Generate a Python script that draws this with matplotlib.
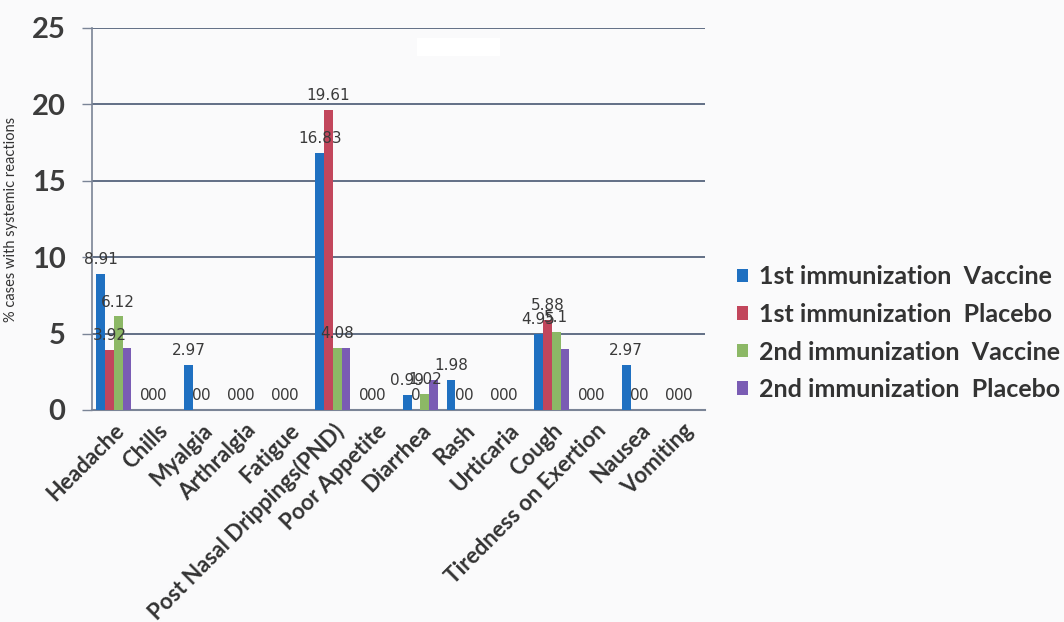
import matplotlib
matplotlib.use("Agg")
import matplotlib.pyplot as plt
import numpy as np
from matplotlib.patches import Rectangle

plt.rcParams['font.family'] = ['Lato', 'DejaVu Sans']

categories = ["Headache", "Chills", "Myalgia", "Arthralgia", "Fatigue",
              "Post Nasal Drippings(PND)", "Poor Appetite", "Diarrhea", "Rash",
              "Urticaria", "Cough", "Tiredness on Exertion", "Nausea", "Vomiting"]

vaccine_1st = [8.91, 0, 2.97, 0, 0, 16.83, 0, 0.99, 1.98, 0, 4.95, 0, 2.97, 0]
placebo_1st = [3.92, 0, 0, 0, 0, 19.61, 0, 0, 0, 0, 5.88, 0, 0, 0]
vaccine_2nd = [6.12, 0, 0, 0, 0, 4.08, 0, 1.02, 0, 0, 5.1, 0, 0, 0]
placebo_2nd = [4.08, 0, 0, 0, 0, 4.08, 0, 1.96, 0, 0, 4.0, 0, 0, 0]

series_names = ["1st immunization  Vaccine", "1st immunization  Placebo",
                "2nd immunization  Vaccine", "2nd immunization  Placebo"]
series_values = [vaccine_1st, placebo_1st, vaccine_2nd, placebo_2nd]
series_colors = ["#1f70c1", "#c2465c", "#8cb866", "#7a5cb4"]
series_labelled = [True, True, True, False]

y_ticks = [0, 5, 10, 15, 20, 25]

bg = "#fafafb"
fig = plt.figure(figsize=(10.64, 6.22), dpi=100)
fig.patch.set_facecolor(bg)
ax = fig.add_axes([92 / 1064, 1 - 410 / 622, (705 - 92) / 1064, (410 - 28) / 622])
ax.set_facecolor(bg)

x = np.arange(len(categories))
width = 0.2
offsets = [-1.5, -0.5, 0.5, 1.5]

for vals, name, col, lab, off in zip(series_values, series_names, series_colors,
                                     series_labelled, offsets):
    bars = ax.bar(x + off * width, vals, width, color=col, label=name, zorder=3)
    if lab:
        for b, v in zip(bars, vals):
            txt = f"{v:g}"
            ax.annotate(txt, (b.get_x() + b.get_width() / 2, v),
                        xytext=(0, 5), textcoords="offset points",
                        ha="center", va="bottom", fontsize=11,
                        color="#3a3a3a", family=["DejaVu Sans"], zorder=4)

ax.set_xlim(-0.5, len(categories) - 0.5)
ax.set_ylim(0, 25)
ax.set_yticks(y_ticks)
ax.set_yticklabels([str(t) for t in y_ticks], fontsize=21, fontweight="bold",
                   color="#3c3c3c")
ax.yaxis.grid(True, color="#56647c", linewidth=1.3, zorder=0)
ax.tick_params(axis="y", direction="out", length=7, width=1, color="#7a8496", pad=12)
ax.tick_params(axis="x", length=0, pad=7)
ax.set_xticks(x)
ax.set_xticklabels(categories, rotation=45, ha="right", rotation_mode="anchor",
                   fontsize=16, fontweight="bold", color="#333333")

for s in ["top", "right"]:
    ax.spines[s].set_visible(False)
ax.spines["left"].set_color("#7a8496")
ax.spines["left"].set_linewidth(1.2)
ax.spines["bottom"].set_color("#7a8496")
ax.spines["bottom"].set_linewidth(1.5)

ax.set_ylabel("% cases with systemic reactions", fontsize=10.5, color="#333333",
              labelpad=10)

leg = fig.legend(loc="upper left", bbox_to_anchor=(714 / 1064, 1 - 243 / 622),
                 frameon=False, handlelength=0.45, handleheight=0.45,
                 handletextpad=0.45, labelspacing=0.58,
                 prop={"size": 18, "weight": "bold"})
for t in leg.get_texts():
    t.set_color("#333333")

fig.patches.append(Rectangle((417 / 1064, 1 - 56 / 622), 83 / 1064, 18 / 622,
                             transform=fig.transFigure, facecolor="white",
                             edgecolor="none", zorder=5))

fig.savefig("out.png", dpi=100, facecolor=fig.get_facecolor())
